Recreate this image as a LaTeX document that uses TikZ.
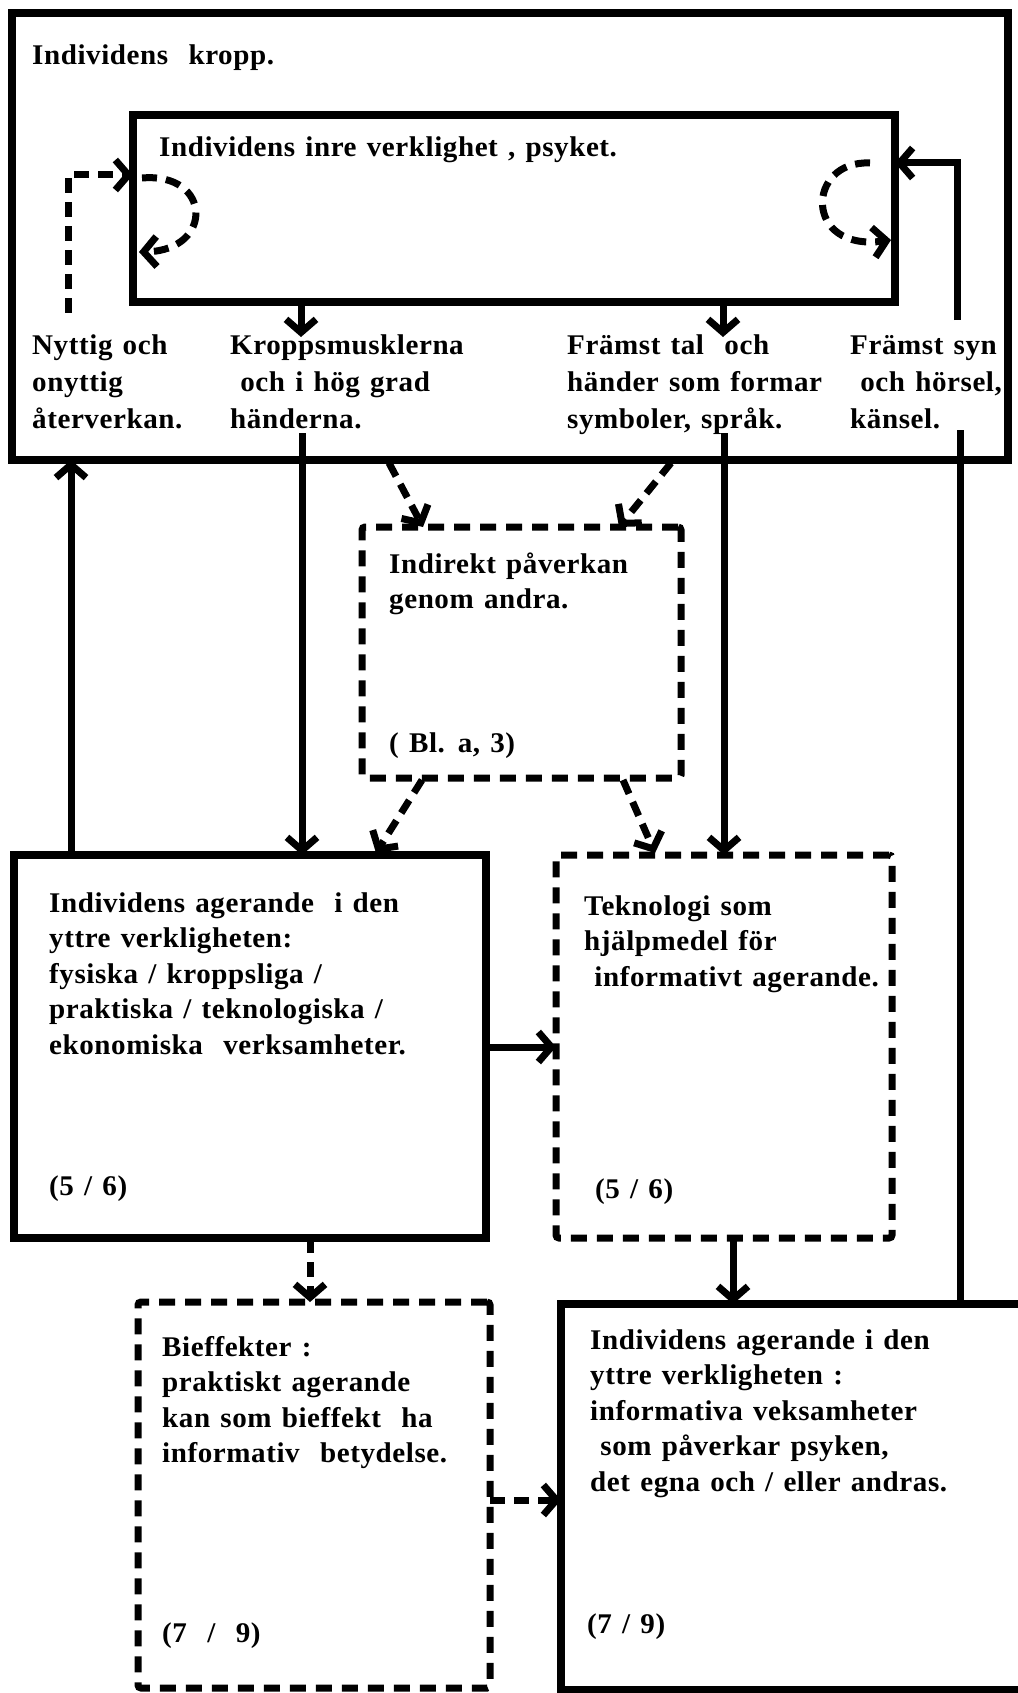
\documentclass[tikz,border=0pt]{standalone}
\usepackage{fontspec}
\newfontfamily\dfont{Liberation Serif}[FakeStretch=1.02,LetterSpace=2,WordSpace=1.3]
\usetikzlibrary{arrows.meta,calc}
\begin{document}
\begin{tikzpicture}[x=1pt,y=-1pt,
  box/.style={draw, line width=8pt, inner sep=0pt, outer sep=0pt, anchor=north west},
  dbox/.style={box, line width=7pt, dash pattern=on 16pt off 10pt, rounded corners=3pt},
  txt/.style={inner sep=0pt, anchor=base west, font=\dfont\bfseries\fontsize{28.5}{35.5}\selectfont},
  lbl/.style={txt, font=\dfont\bfseries\fontsize{28.5}{37}\selectfont},
  con/.style={line width=7pt, -{Straight Barb[length=13pt,width=30pt]}},
  dcon/.style={con, dash pattern=on 15pt off 9pt},
  ln/.style={line width=7pt}]
\useasboundingbox (0,0) rectangle (1017,1693);
\fill[white] (0,0) rectangle (1017,1693);
% boxes
\node[box, minimum width=996pt, minimum height=447pt] (outer) at (12,13) {};
\node[box, minimum width=762pt, minimum height=187pt] (inner) at (133,115) {};
\node[dbox, minimum width=319pt, minimum height=251pt] (ind) at (362,527) {};
\node[box, minimum width=472pt, minimum height=383pt] (ll) at (14,855) {};
\node[dbox, minimum width=336pt, minimum height=383pt] (tek) at (556,855) {};
\node[dbox, minimum width=352pt, minimum height=386pt] (bi) at (138,1302) {};
\node[box, minimum width=470pt, minimum height=386pt] (lr) at (561,1304) {};
% texts
\node[txt] (tkropp) at (32,65) {Individens\ \ kropp.};
\node[txt] (tinre) at (159,157) {Individens inre verklighet , psyket.};
\node[lbl] (tnyt) at (32,354) {\begin{tabular}[t]{@{}l@{}}Nyttig och\\onyttig\\återverkan.\end{tabular}};
\node[lbl] (tkm) at (230,354) {\begin{tabular}[t]{@{}l@{}}Kroppsmusklerna\\\ och i hög grad\\händerna.\end{tabular}};
\node[lbl] (ttal) at (567,354) {\begin{tabular}[t]{@{}l@{}}Främst tal\ \ och\\händer som formar\\symboler, språk.\end{tabular}};
\node[lbl] (tsyn) at (850,354) {\begin{tabular}[t]{@{}l@{}}Främst syn\\\ och hörsel,\\känsel.\end{tabular}};
\node[txt] (tind) at (389,573) {\begin{tabular}[t]{@{}l@{}}Indirekt påverkan\\genom andra.\end{tabular}};
\node[txt] (tind2) at (389,752) {( Bl. a, 3)};
\node[txt] (tll) at (49,912) {\begin{tabular}[t]{@{}l@{}}Individens agerande\ \ i den\\yttre verkligheten:\\fysiska / kroppsliga /\\praktiska / teknologiska /\\ekonomiska\ \ verksamheter.\end{tabular}};
\node[txt] (tll2) at (49,1195) {(5 / 6)};
\node[txt] (ttek) at (584,915) {\begin{tabular}[t]{@{}l@{}}Teknologi som\\hjälpmedel för\\\ informativt agerande.\end{tabular}};
\node[txt] (ttek2) at (595,1198) {(5 / 6)};
\node[txt] (tbi) at (162,1356) {\begin{tabular}[t]{@{}l@{}}Bieffekter :\\praktiskt agerande\\kan som bieffekt\ \ ha\\informativ\ \ betydelse.\end{tabular}};
\node[txt] (tbi2) at (162,1642) {(7\ \ /\ \ 9)};
\node[txt] (tlr) at (590,1349) {\begin{tabular}[t]{@{}l@{}}Individens agerande i den\\yttre verkligheten :\\informativa veksamheter\\\ som påverkar psyken,\\det egna och / eller andras.\end{tabular}};
\node[txt] (tlr2) at (587,1633) {(7 / 9)};
% connectors
\coordinate (fb1) at (68,313);
\coordinate (fb2) at (68,175);
\draw[dcon] (fb1) -- (fb2) -- (inner.west |- fb2);
\coordinate (lp1) at (142,178);
\coordinate (lp2) at (139,252);
\draw[dcon] (lp1) .. controls (212,172) and (214,250) .. (lp2);
\coordinate (rp1) at (870,163);
\coordinate (rp2) at (891,240);
\draw[dcon] (rp1) .. controls (806,160) and (803,252) .. (rp2);
\coordinate (sy1) at (957,320);
\coordinate (sy2) at (957,163);
\draw[con] (sy1) -- (sy2) -- (inner.east |- sy2);
\coordinate (k1) at (301,337);
\draw[con] (inner.south -| k1) -- (k1);
\coordinate (t1) at (723,337);
\draw[con] (inner.south -| t1) -- (t1);
\coordinate (k2) at (302,433);
\draw[con] (k2) -- (ll.north -| k2);
\coordinate (t2) at (724,433);
\draw[con] (t2) -- (tek.north -| t2);
\coordinate (s3) at (960,430);
\draw[ln] (lr.north -| s3) -- (s3);
\coordinate (u1) at (71,0);
\draw[con] (ll.north -| u1) -- (outer.south -| u1);
\coordinate (d1a) at (389,463);
\coordinate (d1b) at (423,527);
\draw[dcon] (d1a) -- (d1b);
\coordinate (d2a) at (671,463);
\coordinate (d2b) at (619,527);
\draw[dcon] (d2a) -- (d2b);
\coordinate (d3a) at (422,780);
\coordinate (d3b) at (376,853);
\draw[dcon] (d3a) -- (d3b);
\coordinate (d4a) at (623,780);
\coordinate (d4b) at (655,853);
\draw[dcon] (d4a) -- (d4b);
\coordinate (h1) at (0,1047);
\draw[con] (ll.east |- h1) -- (tek.west |- h1);
\coordinate (v1) at (310,0);
\draw[dcon] (ll.south -| v1) -- (bi.north -| v1);
\coordinate (v2) at (733,0);
\draw[con] (tek.south -| v2) -- (lr.north -| v2);
\coordinate (h2) at (0,1500);
\draw[dcon] (bi.east |- h2) -- (lr.west |- h2);
\end{tikzpicture}
\end{document}
